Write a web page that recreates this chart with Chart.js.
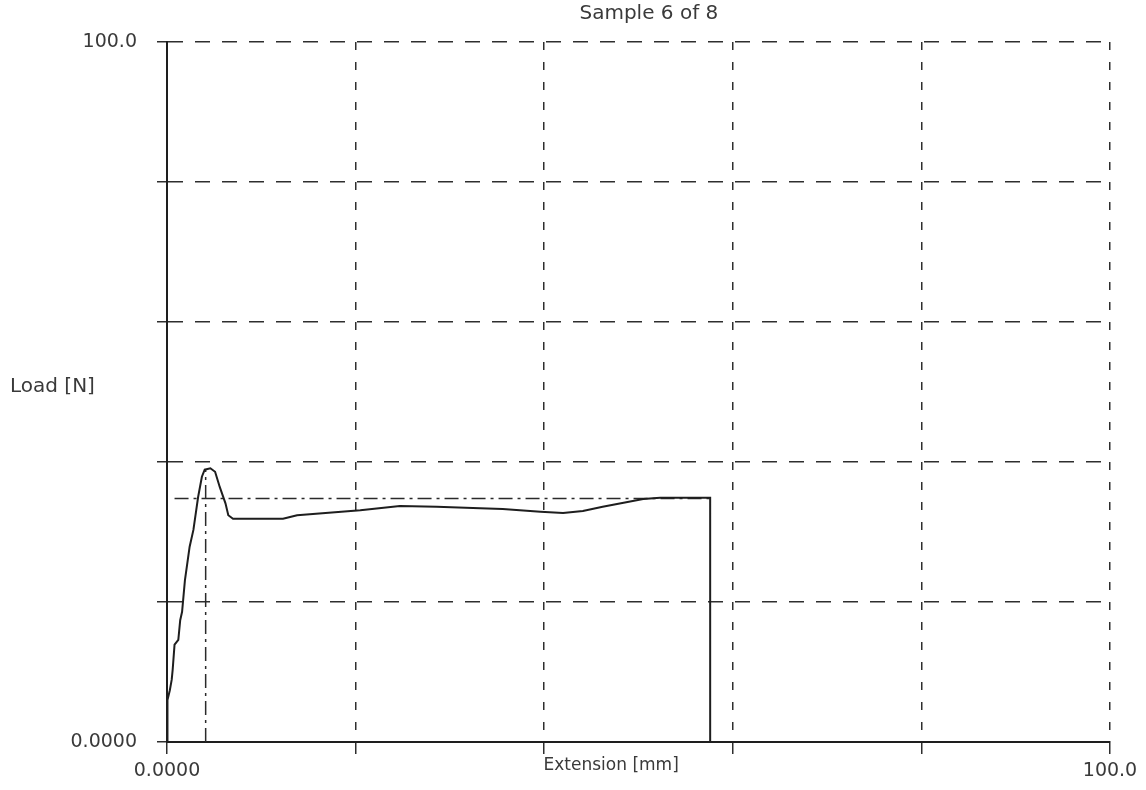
<!DOCTYPE html>
<html>
<head>
<meta charset="utf-8">
<script src="https://cdn.jsdelivr.net/npm/chart.js@4/dist/chart.umd.min.js"></script>
<style>
  html, body { margin: 0; padding: 0; background: #fff; }
  #wrap { width: 1146px; height: 790px; }
</style>
</head>
<body>
<div id="wrap"><canvas id="grafico"></canvas></div>
<script>
// dados
var extensao = [0, 0, 0.1, 0.3, 0.5, 0.6, 0.8, 1.2, 1.4, 1.6, 1.9, 2.4, 2.8, 3.3, 3.7, 4.0, 4.6, 5.1, 5.6, 6.2, 6.5, 7.0,
  12.3, 13.8, 20.5, 24.7, 28.6, 33.2, 35.6, 39.6, 42.0, 44.1, 46.2, 50.5, 52.3, 57.6, 57.6];
var carga = [0, 3.1, 6.0, 7.4, 8.9, 10.3, 13.9, 14.6, 17.4, 18.6, 23.1, 27.9, 30.3, 35.0, 37.9, 38.9, 39.1, 38.6, 36.4, 34.1, 32.4, 31.9,
  31.9, 32.4, 33.1, 33.7, 33.6, 33.4, 33.3, 32.9, 32.7, 33.0, 33.6, 34.7, 34.9, 34.9, 0];

// linhas traco-ponto (pico e nivel de ruptura)
var picoX = [4.1, 4.1];
var picoY = [0, 39.0];
var nivelX = [0.8, 57.6];
var nivelY = [34.8, 34.8];

// ticks
var xTicks = [0, 20, 40, 60, 80, 100];
var xTickLabels = ['0.0000', '', '', '', '', '100.0'];
var yTicks = [0, 20, 40, 60, 80, 100];
var yTickLabels = ['0.0000', '', '', '', '', '100.0'];

var titulo = 'Sample 6 of 8';
var tituloX = 'Extension [mm]';
var tituloY = 'Load [N]';

function pares(xs, ys) {
  return xs.map(function (v, i) { return { x: v, y: ys[i] }; });
}

// titulo deslocado e titulos dos eixos na mesma linha dos ticks
var textos = {
  id: 'textos',
  afterDraw: function (chart) {
    var ctx = chart.ctx;
    var area = chart.chartArea;
    ctx.save();
    ctx.fillStyle = '#3a3a3a';
    ctx.textBaseline = 'middle';
    ctx.font = '20px "DejaVu Sans"';
    ctx.textAlign = 'center';
    ctx.fillText(titulo, chart.scales.x.getPixelForValue(51.1), 14);
    ctx.textAlign = 'left';
    ctx.fillText(tituloY, 10, (area.top + area.bottom) / 2 - 5);
    ctx.font = '17px "DejaVu Sans"';
    ctx.textAlign = 'center';
    ctx.fillText(tituloX, chart.scales.x.getPixelForValue(47.1), area.bottom + 24);
    ctx.restore();
  }
};

var ctx = document.getElementById('grafico').getContext('2d');
var myChart = new Chart(ctx, {
  type: 'scatter',
  data: {
    datasets: [{
      label: 'Load',
      data: pares(extensao, carga),
      showLine: true,
      borderColor: '#1e1e1e',
      borderWidth: 2,
      pointRadius: 0,
      tension: 0
    }, {
      label: 'Pico',
      data: pares(picoX, picoY),
      showLine: true,
      borderColor: '#2a2a2a',
      borderWidth: 1.5,
      borderDash: [14, 5, 3, 5],
      pointRadius: 0
    }, {
      label: 'Nivel',
      data: pares(nivelX, nivelY),
      showLine: true,
      borderColor: '#2a2a2a',
      borderWidth: 1.5,
      borderDash: [14, 5, 3, 5],
      pointRadius: 0
    }]
  },
  options: {
    responsive: true,
    maintainAspectRatio: false,
    animation: false,
    layout: { padding: { left: 0, right: 36, top: 42, bottom: 0 } },
    plugins: {
      legend: { display: false },
      tooltip: { enabled: false },
      title: { display: false }
    },
    scales: {
      x: {
        type: 'linear',
        min: 0,
        max: 100,
        afterFit: function (scale) { scale.height = 48; },
        afterBuildTicks: function (scale) {
          scale.ticks = xTicks.map(function (v) { return { value: v }; });
        },
        ticks: {
          autoSkip: false,
          maxRotation: 0,
          padding: 6,
          color: '#3a3a3a',
          font: { family: 'DejaVu Sans', size: 19 },
          callback: function (value) {
            var i = xTicks.indexOf(value);
            return i >= 0 ? xTickLabels[i] : '';
          }
        },
        grid: { color: '#2e2e2e', lineWidth: 1.5, tickLength: 12 },
        border: { display: true, color: '#1e1e1e', width: 2, dash: [8, 12] }
      },
      y: {
        type: 'linear',
        min: 0,
        max: 100,
        afterFit: function (scale) { scale.width = 167; },
        afterBuildTicks: function (scale) {
          scale.ticks = yTicks.map(function (v) { return { value: v }; });
        },
        ticks: {
          autoSkip: false,
          padding: 20,
          color: '#3a3a3a',
          font: { family: 'DejaVu Sans', size: 19 },
          callback: function (value) {
            var i = yTicks.indexOf(value);
            return i >= 0 ? yTickLabels[i] : '';
          }
        },
        grid: { color: '#2e2e2e', lineWidth: 1.5, tickLength: 10 },
        border: { display: true, color: '#1e1e1e', width: 2, dash: [15, 12] }
      }
    }
  },
  plugins: [textos]
});
</script>
</body>
</html>
